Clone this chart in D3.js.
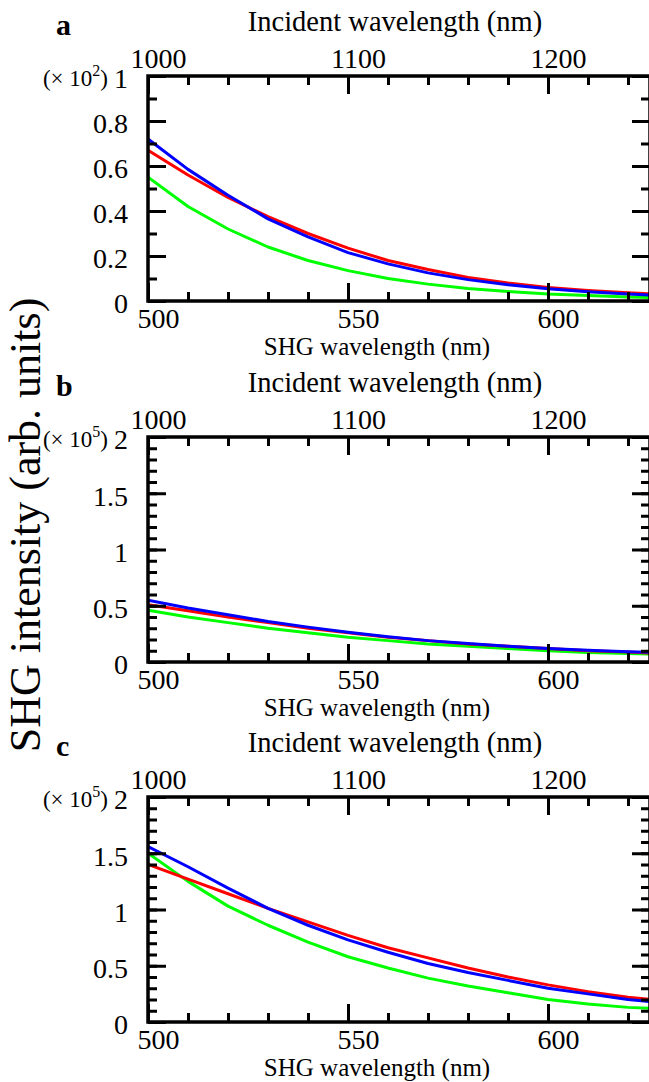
<!DOCTYPE html>
<html>
<head>
<meta charset="utf-8">
<script src="https://cdn.jsdelivr.net/npm/d3@7"></script>
<style>
  body { margin: 0; background: #fff; }
</style>
</head>
<body>
<div id="chart"></div>
<script>
// SHG wavelength samples (nm), shared by every panel
const shgWavelengths = [500, 510, 520, 530, 540, 550, 560, 570, 580, 590, 600, 610, 620, 626];

// panel a (x 10^2)
const aRed = [0.67, 0.56, 0.46, 0.375, 0.30, 0.235, 0.18, 0.14, 0.105, 0.08, 0.06, 0.047, 0.037, 0.032];
const aBlue = [0.72, 0.585, 0.47, 0.365, 0.285, 0.215, 0.165, 0.125, 0.095, 0.072, 0.054, 0.041, 0.031, 0.026];
const aGreen = [0.55, 0.42, 0.32, 0.24, 0.18, 0.135, 0.10, 0.075, 0.056, 0.042, 0.031, 0.024, 0.018, 0.015];

// panel b (x 10^5)
const bRed = [0.51, 0.455, 0.40, 0.35, 0.30, 0.26, 0.22, 0.19, 0.16, 0.14, 0.12, 0.10, 0.088, 0.08];
const bBlue = [0.55, 0.48, 0.42, 0.36, 0.31, 0.265, 0.225, 0.19, 0.165, 0.14, 0.12, 0.105, 0.092, 0.085];
const bGreen = [0.46, 0.40, 0.35, 0.30, 0.26, 0.22, 0.19, 0.16, 0.14, 0.12, 0.10, 0.085, 0.075, 0.07];

// panel c (x 10^5)
const cRed = [1.40, 1.27, 1.14, 1.01, 0.89, 0.77, 0.66, 0.57, 0.48, 0.40, 0.33, 0.27, 0.22, 0.20];
const cBlue = [1.56, 1.38, 1.19, 1.01, 0.86, 0.73, 0.62, 0.52, 0.44, 0.37, 0.30, 0.25, 0.20, 0.18];
const cGreen = [1.50, 1.25, 1.03, 0.86, 0.71, 0.58, 0.48, 0.39, 0.32, 0.26, 0.20, 0.16, 0.13, 0.12];

// tick values and labels
const shgMajor = [500, 550, 600];
const shgMinor = d3.range(500, 626, 10);
const incidentMajor = [1000, 1100, 1200];
const incidentMinor = d3.range(1000, 1252, 20);
const aYMajor = [0, 0.2, 0.4, 0.6, 0.8, 1];
const aYLabels = ['0', '0.2', '0.4', '0.6', '0.8', '1'];
const bcYMajor = [0, 0.5, 1, 1.5, 2];
const bcYLabels = ['0', '0.5', '1', '1.5', '2'];

const FONT = 'Liberation Serif, Tinos, Times New Roman, Times, Noto Serif, DejaVu Serif, serif';
const W = 649;
const H = 1082;
const left = 148;
const right = 650;
const panelH = 225;
const majorLen = 18;
const minorLen = 9;

const svg = d3.select('#chart')
  .append('svg')
  .attr('width', W)
  .attr('height', H)
  .style('font-family', FONT);

const panels = [
  { name: 'a', top: 76, yMax: 1, exp: '2', yMajor: aYMajor, yLabels: aYLabels,
    series: [['#00ff00', aGreen], ['#ff0000', aRed], ['#0000ff', aBlue]] },
  { name: 'b', top: 437, yMax: 2, exp: '5', yMajor: bcYMajor, yLabels: bcYLabels,
    series: [['#00ff00', bGreen], ['#ff0000', bRed], ['#0000ff', bBlue]] },
  { name: 'c', top: 797, yMax: 2, exp: '5', yMajor: bcYMajor, yLabels: bcYLabels,
    series: [['#00ff00', cGreen], ['#ff0000', cRed], ['#0000ff', cBlue]] },
];

const x = d3.scaleLinear().domain([500, 625.5]).range([left, right]);
const xTop = d3.scaleLinear().domain([1000, 1251]).range([left, right]);

// strip the domain path and style tick lines/labels of a d3 axis group
function styleAxis(g) {
  g.attr('font-family', null);
  g.select('.domain').remove();
  g.selectAll('.tick line').attr('stroke', '#000').attr('stroke-width', 3);
  g.selectAll('.tick text').style('font-family', FONT).style('font-size', '28px');
}

function addText(g, str, size) {
  return g.append('text')
    .style('font-family', FONT)
    .style('font-size', `${size}px`)
    .text(str);
}

function drawPanel(p, i) {
  const bottom = p.top + panelH;
  const y = d3.scaleLinear().domain([0, p.yMax]).range([bottom, p.top]);
  const yMinor = d3.range(0, p.yMax + 0.001, 0.1);
  const g = svg.append('g').attr('class', `panel-${p.name}`);

  g.append('clipPath')
    .attr('id', `clip-${i}`)
    .append('rect')
    .attr('x', left)
    .attr('y', p.top)
    .attr('width', right - left)
    .attr('height', panelH);

  const line = d3.line()
    .x((d) => x(d[0]))
    .y((d) => y(d[1]));

  p.series.forEach(([color, vals]) => {
    g.append('path')
      .datum(shgWavelengths.map((w, k) => [w, vals[k]]))
      .attr('clip-path', `url(#clip-${i})`)
      .attr('fill', 'none')
      .attr('stroke', color)
      .attr('stroke-width', 3)
      .attr('stroke-linejoin', 'round')
      .attr('d', line);
  });

  // bottom axis, ticks pointing inward
  g.append('g')
    .attr('transform', `translate(0,${bottom})`)
    .call(d3.axisBottom(x).tickValues(shgMinor).tickSize(-minorLen).tickFormat(''))
    .call(styleAxis);
  const gb = g.append('g')
    .attr('transform', `translate(0,${bottom})`)
    .call(d3.axisBottom(x).tickValues(shgMajor).tickSize(-majorLen).tickFormat(d3.format('d')))
    .call(styleAxis);
  gb.selectAll('.tick text')
    .attr('y', 27)
    .attr('dy', 0)
    .attr('dx', 10);

  // top axis (incident wavelength)
  g.append('g')
    .attr('transform', `translate(0,${p.top})`)
    .call(d3.axisTop(xTop).tickValues(incidentMinor).tickSize(-minorLen).tickFormat(''))
    .call(styleAxis);
  const gt = g.append('g')
    .attr('transform', `translate(0,${p.top})`)
    .call(d3.axisTop(xTop).tickValues(incidentMajor).tickSize(-majorLen).tickFormat(d3.format('d')))
    .call(styleAxis);
  gt.selectAll('.tick text')
    .attr('y', -8)
    .attr('dy', 0)
    .attr('dx', 10);

  // left axis
  g.append('g')
    .attr('transform', `translate(${left},0)`)
    .call(d3.axisLeft(y).tickValues(yMinor).tickSize(-minorLen).tickFormat(''))
    .call(styleAxis);
  const gl = g.append('g')
    .attr('transform', `translate(${left},0)`)
    .call(d3.axisLeft(y).tickValues(p.yMajor).tickSize(-majorLen)
      .tickFormat((d, k) => p.yLabels[k]))
    .call(styleAxis);
  gl.selectAll('.tick text')
    .attr('x', -20)
    .attr('dy', '0.42em');

  // right axis
  g.append('g')
    .attr('transform', `translate(${right},0)`)
    .call(d3.axisRight(y).tickValues(yMinor).tickSize(-minorLen).tickFormat(''))
    .call(styleAxis);
  g.append('g')
    .attr('transform', `translate(${right},0)`)
    .call(d3.axisRight(y).tickValues(p.yMajor).tickSize(-majorLen).tickFormat(''))
    .call(styleAxis);

  // frame
  g.append('rect')
    .attr('x', left)
    .attr('y', p.top)
    .attr('width', right - left)
    .attr('height', panelH)
    .attr('fill', 'none')
    .attr('stroke', '#000')
    .attr('stroke-width', 3.5);

  // axis titles
  addText(g, 'SHG wavelength (nm)', 25)
    .attr('x', 377)
    .attr('y', bottom + 54)
    .attr('text-anchor', 'middle');
  addText(g, 'Incident wavelength (nm)', 28.5)
    .attr('x', 395)
    .attr('y', p.top - 45)
    .attr('text-anchor', 'middle');

  // panel letter
  addText(g, p.name, 30)
    .attr('x', 56)
    .attr('y', p.top - 41)
    .style('font-weight', 'bold');

  // multiplier next to the top y label
  const mult = addText(g, null, 23)
    .attr('x', 108)
    .attr('y', p.top + 10)
    .attr('text-anchor', 'end');
  mult.append('tspan').text('(\u00d7 10');
  mult.append('tspan').attr('dy', -10).style('font-size', '16px').text(p.exp);
  mult.append('tspan').attr('dy', 10).text(')');
}

panels.forEach(drawPanel);

// shared y axis title
addText(svg, 'SHG intensity (arb. units)', 44)
  .attr('transform', 'translate(40,525) rotate(-90)')
  .attr('text-anchor', 'middle');
</script>
</body>
</html>
